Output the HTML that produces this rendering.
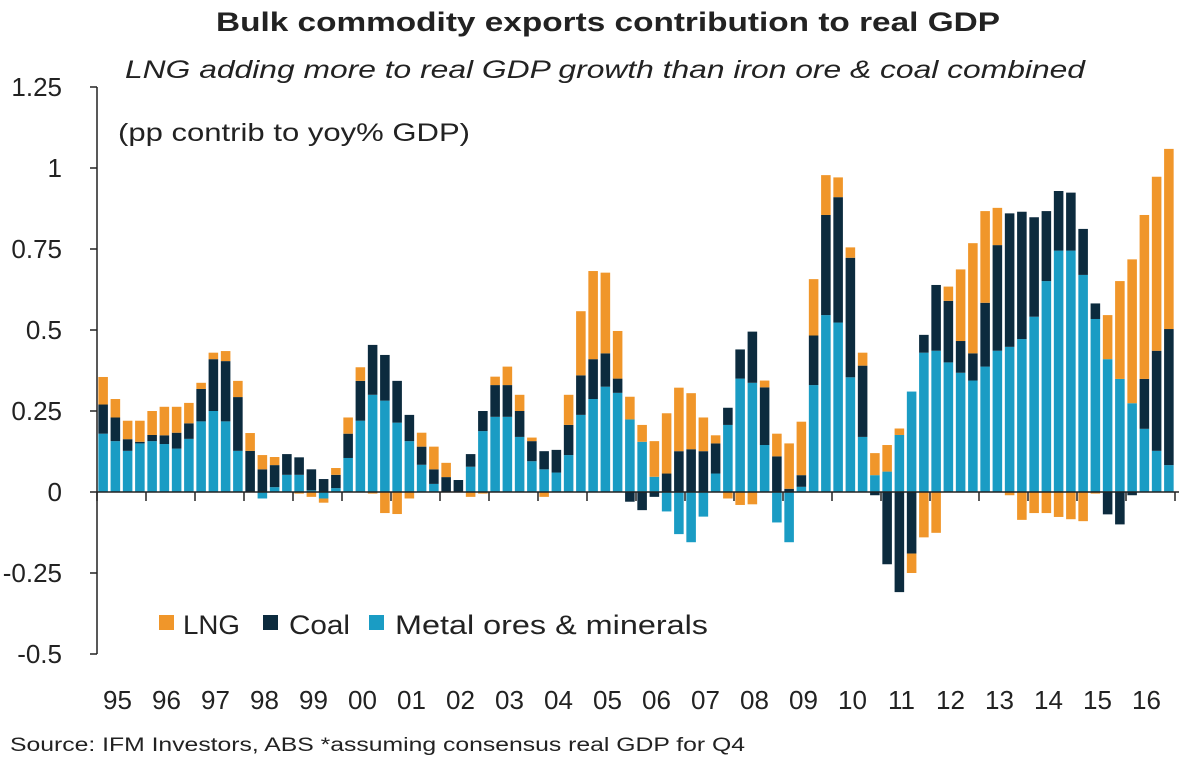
<!DOCTYPE html>
<html><head><meta charset="utf-8"><style>
html,body{margin:0;padding:0;background:#fff;width:1195px;height:776px;overflow:hidden}
svg text{font-family:"Liberation Sans",sans-serif;fill:#222}
</style></head><body>
<svg id="chart" width="1195" height="776" xmlns="http://www.w3.org/2000/svg">
<text x="216" y="31" font-size="27" font-weight="bold" fill="#111" textLength="784" lengthAdjust="spacingAndGlyphs">Bulk commodity exports contribution to real GDP</text>
<text x="125" y="78" font-size="25" font-style="italic" textLength="960" lengthAdjust="spacingAndGlyphs">LNG adding more to real GDP growth than iron ore &amp; coal combined</text>
<text x="118" y="141" font-size="25" textLength="352" lengthAdjust="spacingAndGlyphs">(pp contrib to yoy% GDP)</text>
<g id="yaxis"></g>
<g id="bars"></g>
<g id="xaxis"></g>
<g>
<g><rect x="159" y="615" width="15" height="15" fill="#f0962a"/><text x="183" y="634" font-size="27" textLength="57" lengthAdjust="spacingAndGlyphs">LNG</text></g>
<g><rect x="263" y="615" width="15" height="15" fill="#0c2b3e"/><text x="289" y="634" font-size="27" textLength="61" lengthAdjust="spacingAndGlyphs">Coal</text></g>
<g><rect x="369" y="615" width="15" height="15" fill="#1a9cc4"/><text x="395" y="634" font-size="27" textLength="313" lengthAdjust="spacingAndGlyphs">Metal ores &amp; minerals</text></g>
</g>
<text x="10" y="751" font-size="19" textLength="735" lengthAdjust="spacingAndGlyphs">Source: IFM Investors, ABS *assuming consensus real GDP for Q4</text>
</svg>
<script>
const years = ["95","96","97","98","99","00","01","02","03","04","05","06","07","08","09","10","11","12","13","14","15","16"];
const yTicks = [1.25,1,0.75,0.5,0.25,0,-0.25,-0.5];
const yTickLabels = ["1.25","1","0.75","0.5","0.25","0","-0.25","-0.5"];
const metal = [.18,.157,.127,.15,.157,.148,.134,.164,.218,.25,.218,.127,0,-.02,.015,.053,.053,.005,-.02,.012,.105,.22,.30,.282,.214,.157,.084,.025,0,0,.078,.188,.232,.232,.17,.095,.07,.06,.114,.238,.287,.325,.306,.224,.155,.047,-.06,-.13,-.155,-.076,.057,.207,.35,.337,.145,-.094,-.155,.016,.33,.546,.523,.354,.17,.052,.063,.176,.31,.43,.436,.4,.368,.344,.387,.436,.448,.472,.541,.651,.745,.745,.67,.534,.41,.349,.274,.195,.127,.083];
const coal = [.09,.073,.036,.005,.019,.027,.049,.048,.1,.16,.186,.166,.127,.07,.068,.064,.054,.065,.04,.041,.075,.123,.154,.141,.129,.081,.056,.045,.046,.037,.039,.062,.098,.098,.08,.062,.056,.07,.093,.122,.123,.103,.044,-.03,-.056,-.015,.057,.126,.132,.126,.093,.053,.09,.158,.178,.11,.01,.036,.153,.309,.387,.369,.22,-.01,-.223,-.309,-.19,.055,.203,.19,.098,.084,.197,.326,.412,.393,.307,.216,.184,.179,.142,.048,-.069,-.1,-.01,.154,.309,.42];
const lng = [.085,.057,.057,.065,.074,.088,.08,.063,.019,.02,.031,.05,.055,.044,.025,0,-.005,-.015,-.013,.021,.05,.042,-.005,-.065,-.068,-.02,.043,.07,.044,0,-.015,-.005,.026,.057,.05,.011,-.015,0,.093,.198,.272,.249,.147,.07,.052,.11,.186,.196,.173,.104,.025,-.02,-.04,-.038,.021,.07,.14,.165,.174,.123,.061,.032,.04,.068,.082,.02,-.06,-.14,-.126,.044,.221,.34,.283,.115,-.01,-.086,-.065,-.065,-.077,-.084,-.09,-.005,.136,.302,.444,.506,.537,.556];

const NS="http://www.w3.org/2000/svg";
const X0=97, X1=1175, Y0=492, PX=324;
const n = metal.length;
const step=(X1-X0)/n;
function y(v){return Y0 - v*PX;}
function xc(i){return X0 + step*(i+0.5);}
function mk(tag,attrs,parent){const e=document.createElementNS(NS,tag);for(const k in attrs)e.setAttribute(k,attrs[k]);parent.appendChild(e);return e;}

const ya=document.getElementById('yaxis');
mk('line',{x1:X0,y1:y(1.25),x2:X0,y2:y(-0.5),stroke:'#222','stroke-width':1.5},ya);
yTicks.forEach((t,k)=>{
  mk('line',{x1:X0-7,y1:y(t),x2:X0,y2:y(t),stroke:'#222','stroke-width':1.5},ya);
  const tx=mk('text',{x:62,y:y(t)+9,'text-anchor':'end','font-size':26},ya);
  tx.textContent=yTickLabels[k];
  
  
});

const bg=document.getElementById('bars');
const series=[['metal',metal,'#1a9cc4'],['coal',coal,'#0c2b3e'],['lng',lng,'#f0962a']];
const bw=step*0.78;
for(let i=0;i<n;i++){
  let pos=0,neg=0;
  series.forEach(([name,arr,col])=>{
    const v=arr[i]; if(!v) return;
    let a,b;
    if(v>0){a=pos;b=pos+v;pos=b;}else{a=neg;b=neg+v;neg=b;}
    const r=mk('rect',{x:xc(i)-bw/2,y:Math.min(y(a),y(b)),width:bw,height:Math.abs(y(a)-y(b)),fill:col},bg);
    
    
  });
}

const xa=document.getElementById('xaxis');
mk('line',{x1:X0,y1:Y0,x2:X1+4,y2:Y0,stroke:'#222','stroke-width':1.5},xa);
const yw=(X1-X0)/years.length;
for(let k=0;k<=years.length;k++){
  mk('line',{x1:X0+yw*k,y1:Y0,x2:X0+yw*k,y2:Y0+9,stroke:'#222','stroke-width':1.5},xa);
}
years.forEach((lab,k)=>{
  const tx=mk('text',{x:X0+yw*(k+0.5)-4,y:709,'text-anchor':'middle','font-size':26},xa);
  tx.textContent=lab;
  
  
});
</script>
</body></html>
